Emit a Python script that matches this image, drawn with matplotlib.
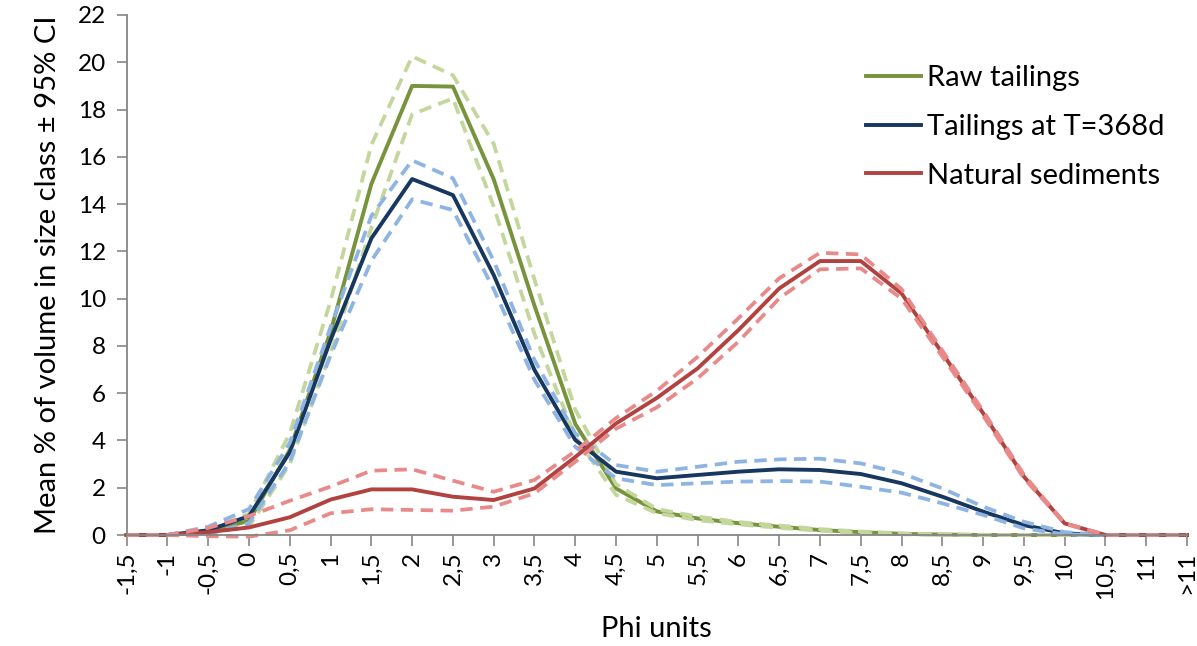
import matplotlib
matplotlib.use("Agg")
import matplotlib.pyplot as plt
import numpy as np

plt.rcParams['font.family'] = ['Lato', 'DejaVu Sans']

# size classes (phi units), decimal comma as in the original
cats = ["-1,5", "-1", "-0,5", "0", "0,5", "1", "1,5", "2", "2,5", "3", "3,5", "4", "4,5",
        "5", "5,5", "6", "6,5", "7", "7,5", "8", "8,5", "9", "9,5", "10", "10,5", "11", ">11"]

raw_mean = [0, 0, 0.15, 0.6, 3.6, 8.6, 14.85, 19.0, 18.97, 15.05, 9.7, 4.7, 1.97,
            1.0, 0.7, 0.5, 0.35, 0.21, 0.12, 0.05, 0.02, 0, 0, 0, 0, 0, 0]
raw_upper = [0, 0, 0.2, 0.9, 4.3, 9.9, 16.5, 20.25, 19.45, 16.55, 10.8, 5.3, 2.15,
             1.1, 0.78, 0.55, 0.4, 0.25, 0.15, 0.07, 0.03, 0.01, 0, 0, 0, 0, 0]
raw_lower = [0, 0, 0.1, 0.35, 3.0, 7.7, 13.0, 17.8, 18.47, 13.9, 8.5, 4.15, 1.7,
             0.92, 0.63, 0.45, 0.3, 0.18, 0.09, 0.03, 0.01, 0, 0, 0, 0, 0, 0]

t368_mean = [0, 0, 0.2, 0.8, 3.5, 8.25, 12.55, 15.06, 14.38, 11.0, 6.98, 4.02, 2.68,
             2.4, 2.54, 2.68, 2.78, 2.75, 2.58, 2.19, 1.62, 0.99, 0.42, 0.07, 0, 0, 0]
t368_upper = [0, 0, 0.35, 1.1, 3.9, 8.8, 13.5, 15.85, 15.09, 11.6, 7.4, 4.3, 2.96,
              2.68, 2.89, 3.1, 3.2, 3.23, 3.03, 2.61, 1.97, 1.2, 0.56, 0.12, 0, 0, 0]
t368_lower = [0, 0, 0.05, 0.5, 3.1, 7.6, 11.6, 14.2, 13.75, 10.4, 6.56, 3.73, 2.4,
              2.11, 2.19, 2.26, 2.28, 2.26, 2.04, 1.79, 1.34, 0.85, 0.28, 0.03, 0, 0, 0]

nat_mean = [0, 0, 0.12, 0.32, 0.75, 1.5, 1.93, 1.93, 1.62, 1.48, 1.97, 3.3, 4.72,
            5.8, 7.05, 8.67, 10.43, 11.59, 11.59, 10.22, 7.69, 5.15, 2.47, 0.49, 0, 0, 0]
nat_upper = [0, 0, 0.3, 0.8, 1.45, 2.05, 2.72, 2.78, 2.3, 1.83, 2.33, 3.55, 4.95,
             6.1, 7.54, 9.17, 10.86, 11.94, 11.87, 10.4, 7.8, 5.25, 2.55, 0.5, 0, 0, 0]
nat_lower = [0, 0, -0.05, -0.07, 0.2, 0.92, 1.09, 1.06, 1.03, 1.2, 1.76, 3.1, 4.5,
             5.4, 6.63, 8.18, 10.01, 11.24, 11.28, 10.0, 7.55, 5.05, 2.4, 0.48, 0, 0, 0]

x = np.arange(len(cats))

fig = plt.figure(figsize=(11.97, 6.46), dpi=100)
ax = fig.add_axes([0.1058, 0.1718, 0.8859, 0.805])

groups = [
    ("Raw tailings", raw_mean, raw_upper, raw_lower, "#77933C", "#C3D69B"),
    ("Tailings at T=368d", t368_mean, t368_upper, t368_lower, "#17375E", "#8EB4E3"),
    ("Natural sediments", nat_mean, nat_upper, nat_lower, "#B2423F", "#E98A8A"),
]
for name, m, up, lo, dark, light in groups:
    ax.plot(x, m, color=dark, lw=2.8, label=name, clip_on=False)
    for band in (up, lo):
        ax.plot(x, band, color=light, lw=2.7, ls=(0, (3.3, 2)), clip_on=False)

ax.set_xlim(0, len(cats) - 1)
ax.set_ylim(0, 22)
ax.set_yticks(np.arange(0, 23, 2))
ax.set_xticks(x)
ax.set_xticklabels(cats, rotation=90, fontsize=17.5)
ax.tick_params(axis='y', labelsize=17.5, length=7, width=1.2, color='#868686', pad=8)
ax.tick_params(axis='x', length=8, width=1.2, color='#868686', pad=4)

for s in ('top', 'right'):
    ax.spines[s].set_visible(False)
for s in ('left', 'bottom'):
    ax.spines[s].set_color('#868686')
    ax.spines[s].set_linewidth(1.3)

ax.set_xlabel("Phi units", fontsize=21, labelpad=12)
ax.set_ylabel("Mean % of volume in size class \u00b1 95% CI", fontsize=21, labelpad=12)

handles, labels = ax.get_legend_handles_labels()
ax.legend(handles, labels, loc='upper left', bbox_to_anchor=(866 / 1197, 1 - 65 / 646),
          bbox_transform=fig.transFigure, frameon=False, fontsize=21,
          handlelength=1.9, handletextpad=0.2, labelspacing=0.78, borderpad=0,
          borderaxespad=0)

fig.savefig("out.png", dpi=100)
